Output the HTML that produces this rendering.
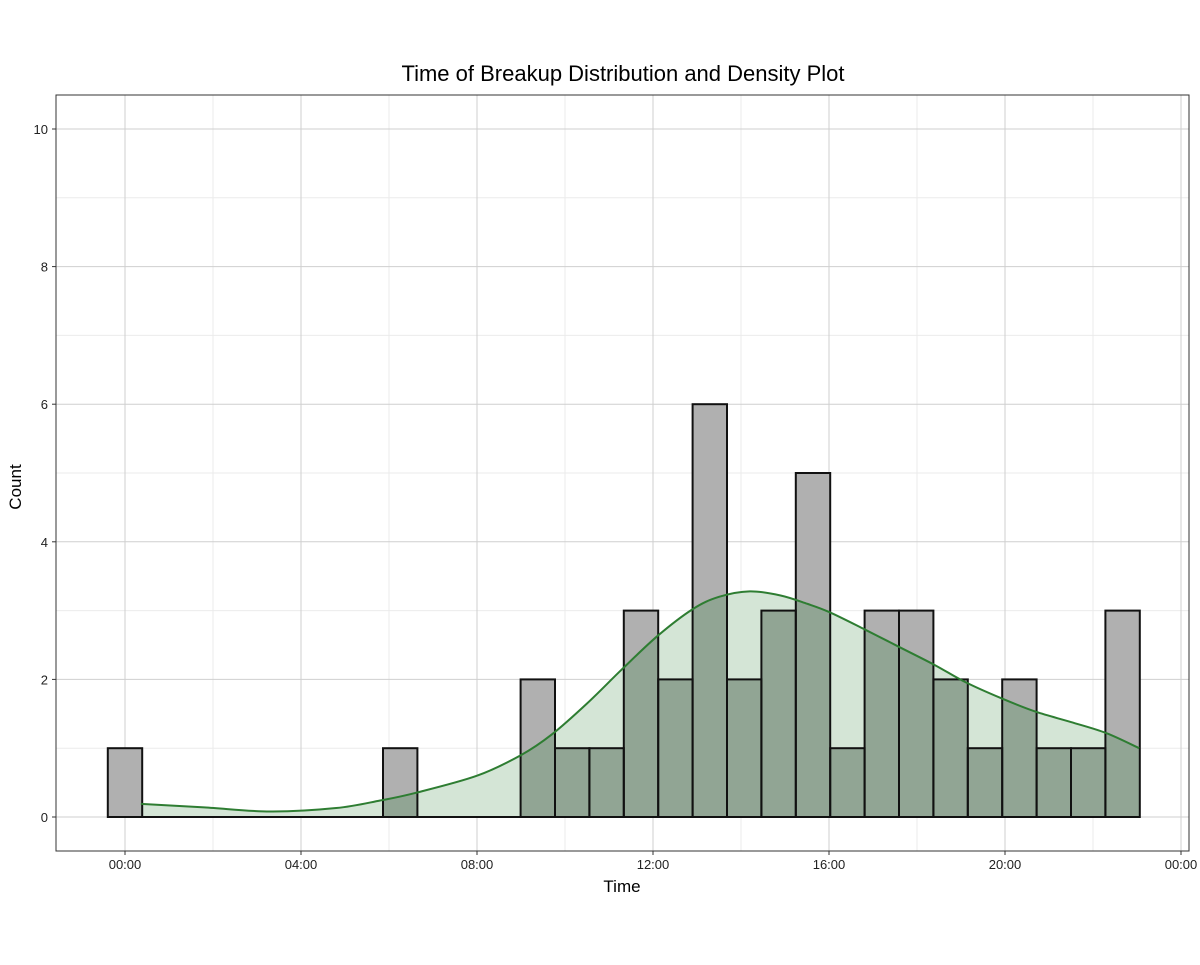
<!DOCTYPE html>
<html><head><meta charset="utf-8"><style>
body{margin:0;background:#fff}
svg text{font-family:"Liberation Sans",Arial,sans-serif}
</style></head><body>
<svg id="chart" width="1200" height="960" xmlns="http://www.w3.org/2000/svg">
<rect width="1200" height="960" fill="#fff"/>
<text x="623" y="81" font-size="22" text-anchor="middle" fill="#000">Time of Breakup Distribution and Density Plot</text>
<g id="grid"></g>
<g id="bars"></g>
<g id="dens"></g>
<g id="outlines"></g>
<rect x="56" y="95" width="1133" height="756" fill="none" stroke="#333" stroke-width="1"/>
<g id="axes"></g>
<text x="622" y="892" font-size="17" text-anchor="middle">Time</text>
<text transform="translate(21,487) rotate(-90)" font-size="17" text-anchor="middle">Count</text>
</svg>
<script>
const binCounts=[1,0,0,0,0,0,0,0,1,0,0,0,2,1,1,3,2,6,2,3,5,1,3,3,2,1,2,1,1,3];
const densHours=[0.36,1.8,3.3,4.8,5.8,6.6,8.0,9.0,9.7,10.5,11.3,12.1,12.9,13.5,14.2,14.9,15.5,16.0,16.8,17.6,18.4,19.1,19.9,20.7,21.5,22.3,23.05];
const densCounts=[0.19,0.14,0.08,0.13,0.24,0.35,0.6,0.9,1.2,1.65,2.15,2.63,3.02,3.2,3.28,3.22,3.1,2.98,2.73,2.47,2.21,1.96,1.73,1.53,1.38,1.22,1.0];
const xTickHours=[0,4,8,12,16,20,24];
const xTickLabels=["00:00","04:00","08:00","12:00","16:00","20:00","00:00"];
const yTicks=[0,2,4,6,8,10];

const NS="http://www.w3.org/2000/svg";
const X=h=>125+h*44;
const Y=v=>817-v*68.8;
const binW=(1139-107)/30/44;
const binStart=-binW/2;
function mk(tag,attrs,parent){const e=document.createElementNS(NS,tag);for(const k in attrs)e.setAttribute(k,attrs[k]);parent.appendChild(e);return e;}
const grid=document.getElementById('grid');
for(let v=1;v<=9;v+=2){const l=mk('line',{x1:56,x2:1189,y1:Y(v),y2:Y(v),stroke:'#ebebeb','stroke-width':1},grid);

}
for(let h=2;h<=22;h+=4){const l=mk('line',{x1:X(h),x2:X(h),y1:95,y2:851,stroke:'#ebebeb','stroke-width':1},grid);

}
yTicks.forEach(v=>{const l=mk('line',{x1:56,x2:1189,y1:Y(v),y2:Y(v),stroke:'#cfcfcf','stroke-width':1},grid);

});
xTickHours.forEach(h=>{const l=mk('line',{x1:X(h),x2:X(h),y1:95,y2:851,stroke:'#cfcfcf','stroke-width':1},grid);

});

const bars=document.getElementById('bars');
const defs=mk('defs',{},document.getElementById('chart'));
const clip=mk('clipPath',{id:'barclip'},defs);
binCounts.forEach((c,i)=>{if(!c)return;
const x0=X(binStart+i*binW),x1=X(binStart+(i+1)*binW);
const r=mk('rect',{x:x0,y:Y(c),width:x1-x0,height:Y(0)-Y(c),fill:'#b0b0b0'},bars);


mk('rect',{x:x0,y:Y(c),width:x1-x0,height:Y(0)-Y(c)},clip);});

const pts=densHours.map((h,i)=>[X(h),Y(densCounts[i])]);
let d=`M${pts[0][0]},${pts[0][1]}`;
for(let i=0;i<pts.length-1;i++){const p0=pts[Math.max(0,i-1)],p1=pts[i],p2=pts[i+1],p3=pts[Math.min(pts.length-1,i+2)];
d+=` C${p1[0]+(p2[0]-p0[0])/6},${p1[1]+(p2[1]-p0[1])/6} ${p2[0]-(p3[0]-p1[0])/6},${p2[1]-(p3[1]-p1[1])/6} ${p2[0]},${p2[1]}`;}
const area=d+` L${pts[pts.length-1][0]},${Y(0)} L${pts[0][0]},${Y(0)} Z`;
const dens=document.getElementById('dens');
const a1=mk('path',{d:area,fill:'#d4e5d6'},dens);


const a2=mk('path',{d:area,fill:'#91a594','clip-path':'url(#barclip)'},dens);


const out=document.getElementById('outlines');
binCounts.forEach((c,i)=>{if(!c)return;
const x0=X(binStart+i*binW),x1=X(binStart+(i+1)*binW);
const r=mk('rect',{x:x0,y:Y(c),width:x1-x0,height:Y(0)-Y(c),fill:'none',stroke:'#111','stroke-width':2},out);

});
const base=mk('line',{x1:X(binStart),x2:X(binStart+30*binW),y1:Y(0),y2:Y(0),stroke:'#111','stroke-width':2},out);


const curve=mk('path',{d:d,fill:'none',stroke:'#2e7d32','stroke-width':2},out);



const axes=document.getElementById('axes');
yTicks.forEach(v=>{mk('line',{x1:52,x2:56,y1:Y(v),y2:Y(v),stroke:'#333'},axes);
const t=mk('text',{x:48,y:Y(v)+5,'font-size':13,'text-anchor':'end',fill:'#222'},axes);t.textContent=v;

});
xTickHours.forEach((h,i)=>{mk('line',{x1:X(h),x2:X(h),y1:851,y2:855,stroke:'#333'},axes);
const t=mk('text',{x:X(h),y:869,'font-size':13,'text-anchor':'middle',fill:'#222'},axes);t.textContent=xTickLabels[i];

});
</script>
</body></html>
